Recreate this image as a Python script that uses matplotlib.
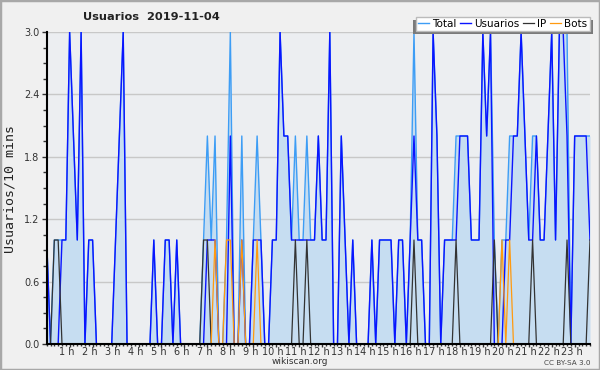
import numpy as np
import matplotlib
matplotlib.use("Agg")
import matplotlib.pyplot as plt
import matplotlib.transforms as mtransforms
from matplotlib.patches import Rectangle

# one value per 10 minutes, 00:00 .. 23:40
usuarios = [1, 0, 0, 0, 1, 1, 3, 2, 1, 3,
            0, 1, 1, 0, 0, 0, 0, 0, 1, 2,
            3, 0, 0, 0, 0, 0, 0, 0, 1, 0,
            0, 1, 1, 0, 1, 0, 0, 0, 0, 0,
            0, 0, 1, 1, 1, 0, 0, 0, 2, 0,
            0, 1, 0, 0, 1, 1, 1, 0, 0, 1,
            1, 3, 2, 2, 1, 1, 1, 1, 1, 1,
            1, 2, 1, 1, 3, 0, 0, 2, 1, 0,
            1, 0, 0, 0, 0, 1, 0, 1, 1, 1,
            1, 0, 1, 1, 0, 1, 2, 1, 1, 0,
            0, 3, 2, 0, 1, 1, 1, 1, 2, 2,
            2, 1, 1, 1, 3, 2, 3, 0, 0, 0,
            1, 1, 2, 2, 3, 2, 1, 1, 2, 1,
            1, 2, 3, 1, 3, 3, 2, 0, 2, 2,
            2, 2, 1]
ip = [0, 0, 1, 1, 0, 0, 0, 0, 0, 0,
      0, 0, 0, 0, 0, 0, 0, 0, 0, 0,
      0, 0, 0, 0, 0, 0, 0, 0, 0, 0,
      0, 0, 0, 0, 0, 0, 0, 0, 0, 0,
      0, 1, 1, 0, 0, 0, 0, 0, 0, 0,
      0, 0, 0, 0, 0, 0, 0, 0, 0, 0,
      0, 0, 0, 0, 0, 1, 0, 0, 1, 0,
      0, 0, 0, 0, 0, 0, 0, 0, 0, 0,
      0, 0, 0, 0, 0, 0, 0, 0, 0, 0,
      0, 0, 0, 0, 0, 0, 1, 0, 0, 0,
      0, 0, 0, 0, 0, 0, 0, 1, 0, 0,
      0, 0, 0, 0, 0, 0, 0, 1, 0, 0,
      0, 0, 0, 0, 0, 0, 0, 1, 0, 0,
      0, 0, 0, 0, 0, 0, 1, 0, 0, 0,
      0, 0, 1]
bots = [0, 0, 0, 0, 0, 0, 0, 0, 0, 0,
        0, 0, 0, 0, 0, 0, 0, 0, 0, 0,
        0, 0, 0, 0, 0, 0, 0, 0, 0, 0,
        0, 0, 0, 0, 0, 0, 0, 0, 0, 0,
        0, 0, 0, 0, 1, 0, 0, 1, 1, 0,
        0, 1, 0, 0, 0, 1, 0, 0, 0, 0,
        0, 0, 0, 0, 0, 0, 0, 0, 0, 0,
        0, 0, 0, 0, 0, 0, 0, 0, 0, 0,
        0, 0, 0, 0, 0, 0, 0, 0, 0, 0,
        0, 0, 0, 0, 0, 0, 0, 0, 0, 0,
        0, 0, 0, 0, 0, 0, 0, 0, 0, 0,
        0, 0, 0, 0, 0, 0, 0, 0, 0, 1,
        0, 1, 0, 0, 0, 0, 0, 0, 0, 0,
        0, 0, 0, 0, 0, 0, 0, 0, 0, 0,
        0, 0, 0]
total = [1, 0, 1, 1, 1, 1, 3, 2, 1, 3,
         0, 1, 1, 0, 0, 0, 0, 0, 1, 2,
         3, 0, 0, 0, 0, 0, 0, 0, 1, 0,
         0, 1, 1, 0, 1, 0, 0, 0, 0, 0,
         0, 1, 2, 1, 2, 0, 0, 1, 3, 0,
         0, 2, 0, 0, 1, 2, 1, 0, 0, 1,
         1, 3, 2, 2, 1, 2, 1, 1, 2, 1,
         1, 2, 1, 1, 3, 0, 0, 2, 1, 0,
         1, 0, 0, 0, 0, 1, 0, 1, 1, 1,
         1, 0, 1, 1, 0, 1, 3, 1, 1, 0,
         0, 3, 2, 0, 1, 1, 1, 2, 2, 2,
         2, 1, 1, 1, 3, 2, 3, 1, 0, 1,
         1, 2, 2, 2, 3, 2, 1, 2, 2, 1,
         1, 2, 3, 1, 3, 3, 3, 0, 2, 2,
         2, 2, 2]
hour_labels = ["{} h".format(h) for h in range(1, 24)]
y_ticks = [0.0, 0.6, 1.2, 1.8, 2.4, 3.0]

x = np.arange(len(total))

fig = plt.figure(figsize=(6, 3.7), dpi=100, facecolor="#f0f0f0")
ax = fig.add_axes([0.0778, 0.0703, 0.9055, 0.8432])
ax.set_facecolor("#eceef1")

ax.fill_between(x, total, color="#c6ddf1", lw=0)
ax.plot(x, total, color="#3d9df5", lw=1.0, label="Total")
ax.plot(x, usuarios, color="#0a14ff", lw=1.0, label="Usuarios")
ax.plot(x, ip, color="#333333", lw=0.9, label="IP")
ax.plot(x, bots, color="#ff9a10", lw=0.9, label="Bots")

ax.set_xlim(0, len(total) - 1)
ax.set_ylim(0, 3.0)

ax.set_xticks([6 * h for h in range(1, 24)])
ax.set_xticklabels(hour_labels)
ax.set_xticks(x, minor=True)
ax.set_yticks(y_ticks)
ax.set_yticklabels(["{:.1f}".format(v) for v in y_ticks])
ax.set_yticks(np.arange(0, 3.01, 0.15), minor=True)
ax.tick_params(axis="y", which="major", length=3.6, width=1, labelsize=7, colors="#333333", pad=1.5)
ax.tick_params(axis="y", which="minor", length=2.6, width=1, color="#333333")
ax.tick_params(axis="x", which="major", length=2.4, width=1, labelsize=7, colors="#333333", pad=0)
ax.tick_params(axis="x", which="minor", length=1.7, width=1, color="#333333")
shift = mtransforms.ScaledTranslation(-3 / 100, 0, fig.dpi_scale_trans)
for lab in ax.get_xticklabels():
    lab.set_transform(lab.get_transform() + shift)
ax.yaxis.grid(True, color="#c8c8c8", lw=1)
ax.set_axisbelow(True)

for side in ["top", "right"]:
    ax.spines[side].set_visible(False)
for side in ["left", "bottom"]:
    ax.spines[side].set_linewidth(1.5)
    ax.spines[side].set_color("black")

fig.text(0.252, 0.954, "Usuarios  2019-11-04", ha="center", va="center",
         fontsize=8.2, fontweight="bold", color="#222222")
fig.text(0.017, 0.49, "Usuarios/10 mins", rotation=90, ha="center", va="center",
         fontsize=9.5, family="DejaVu Sans Mono", color="#222222")
fig.text(0.5, 0.024, "wikiscan.org", ha="center", va="center", fontsize=6.5, color="#333333")
fig.text(0.985, 0.02, "CC BY-SA 3.0", ha="right", va="center", fontsize=5.2, color="#444444")

leg = fig.legend(loc="upper right", bbox_to_anchor=(589.5 / 600, 1 - 17 / 370), ncol=4,
                 fontsize=7.5, frameon=True, fancybox=False, borderpad=0.2,
                 handlelength=1.1, handletextpad=0.3, columnspacing=0.3, borderaxespad=0)
leg.get_frame().set_facecolor("white")
leg.get_frame().set_edgecolor("#bbbbbb")
leg.get_frame().set_alpha(1)
leg.set_zorder(10)

fig.canvas.draw()
bb = leg.get_window_extent().transformed(fig.transFigure.inverted())
dx, dy = 3 / 600, 3 / 370
shadow = Rectangle((bb.x0 - dx, bb.y0 - dy), bb.width + 2 * dx, bb.height, transform=fig.transFigure,
                   facecolor="#7a7a7a", edgecolor="none", zorder=9)
fig.patches.append(shadow)

fig.patches.append(Rectangle((0, 0), 1, 1, transform=fig.transFigure, fill=False,
                             edgecolor="#a8a8a8", lw=2.5, zorder=20))

fig.savefig("out.png", dpi=100, facecolor=fig.get_facecolor())
